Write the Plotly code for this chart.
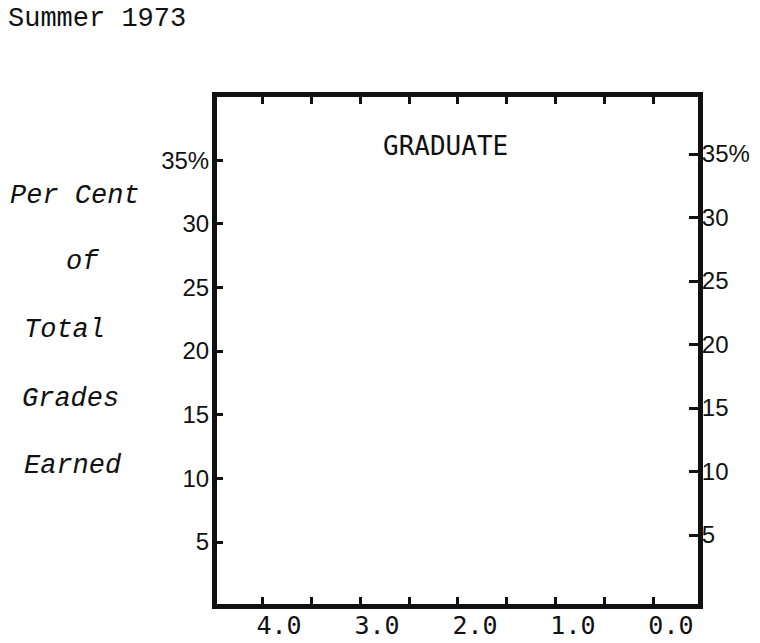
import plotly.graph_objects as go

# Grade-point scale (horizontal) and percentage scale (vertical)
grade_ticks = [4.0, 3.5, 3.0, 2.5, 2.0, 1.5, 1.0, 0.5, 0.0]
grade_labels = ["4.0", "", "3.0", "", "2.0", "", "1.0", "", "0.0"]
pct_ticks = [5, 10, 15, 20, 25, 30, 35]
pct_labels = ["5", "10", "15", "20", "25", "30", "35%"]

title_text = "Summer 1973"
panel_text = "GRADUATE"
ylabel_lines = ["Per Cent", "of", "Total", "Grades", "Earned"]

W, H = 760, 643
L, R, T, B = 217, 62, 97, 39
PW, PH = W - L - R, H - T - B


def px(x):
    return (x - L) / PW


def py(y):
    return (H - B - y) / PH


fig = go.Figure()
fig.add_trace(go.Scatter(x=[], y=[], xaxis="x", yaxis="y", showlegend=False))
fig.add_trace(go.Scatter(x=[], y=[], xaxis="x", yaxis="y2", showlegend=False))

ink = "#111111"
mono = "DejaVu Sans Mono"
sans = "Liberation Sans"

fig.update_layout(
    width=W, height=H,
    margin=dict(l=L, r=R, t=T, b=B, autoexpand=False),
    paper_bgcolor="white", plot_bgcolor="white",
    xaxis=dict(
        range=[4.46, -0.45], automargin=False,
        tickvals=grade_ticks, ticktext=grade_labels,
        ticks="inside", ticklen=7, tickwidth=3, tickcolor=ink,
        showline=True, linewidth=5, linecolor=ink, mirror="ticks",
        showgrid=False, zeroline=False,
        tickfont=dict(family=mono, size=25, color=ink),
        ticklabelshift=-17, ticklabelstandoff=-5,
    ),
    yaxis=dict(
        range=[0.13, 39.96], automargin=False,
        tickvals=pct_ticks, ticktext=pct_labels,
        ticks="inside", ticklen=6, tickwidth=3, tickcolor=ink,
        showline=True, linewidth=5, linecolor=ink,
        showgrid=False, zeroline=False,
        tickfont=dict(family=sans, size=24, color=ink),
        ticklabelstandoff=-2,
    ),
    yaxis2=dict(
        range=[-0.43, 39.49], overlaying="y", side="right", automargin=False,
        tickvals=pct_ticks, ticktext=pct_labels,
        ticks="inside", ticklen=9, tickwidth=3, tickcolor=ink,
        showline=True, linewidth=5, linecolor=ink,
        showgrid=False, zeroline=False,
        tickfont=dict(family=sans, size=24, color=ink),
        ticklabelstandoff=-6,
    ),
)

annotations = [
    dict(text=title_text, x=px(6), y=py(19), xanchor="left", yanchor="middle",
         font=dict(family="Liberation Mono", size=27, color=ink)),
    dict(text=panel_text, x=px(445), y=py(146), xanchor="center", yanchor="middle",
         font=dict(family=mono, size=26, color=ink)),
]
ylab_pos = [(8, 196), (64, 262), (22, 330), (20, 399), (22, 466)]
for line, (lx, ly) in zip(ylabel_lines, ylab_pos):
    annotations.append(dict(
        text="<i>" + line + "</i>", x=px(lx), y=py(ly),
        xanchor="left", yanchor="middle",
        font=dict(family="Liberation Mono", size=27, color=ink)))

for a in annotations:
    a.update(xref="paper", yref="paper", showarrow=False)
fig.update_layout(annotations=annotations)

fig.write_html("out.html")
